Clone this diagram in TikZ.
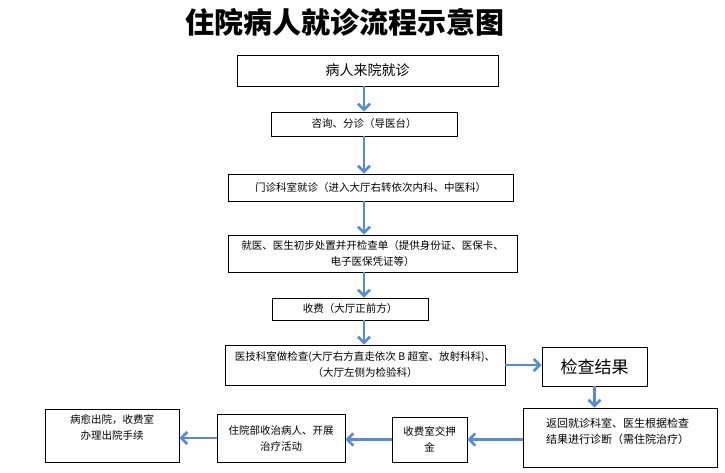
\documentclass[tikz,border=0pt]{standalone}
\usepackage{fontspec}
\setmainfont{Noto Sans CJK SC}
\usetikzlibrary{arrows.meta}

\definecolor{flowblue}{RGB}{84,141,212}

\tikzset{
  box/.style={draw, line width=0.9pt, inner sep=0pt, align=center,
    font=\fontsize{10.5}{16}\selectfont},
  flow/.style={draw=flowblue, line width=2.6pt,
    -{Straight Barb[length=6pt,width=12pt,line width=2.6pt]}}
}

\begin{document}
\begin{tikzpicture}[x=1pt,y=-1pt]
  \useasboundingbox (0,0) rectangle (725,473);

  % Title
  \node[font=\fontsize{29}{30}\selectfont\bfseries] (title) at (345,22) {住院病人就诊流程示意图};

  % Boxes down the middle
  \node[box, minimum width=261, minimum height=31, font=\fontsize{14}{16}\selectfont] (come) at (367.5,70.5) {病人来院就诊};
  \node[box, minimum width=186, minimum height=24] (ask) at (364,124) {咨询、分诊（导医台）};
  \node[box, minimum width=285, minimum height=27] (clinic) at (370.5,187.5) {门诊科室就诊（进入大厅右转依次内科、中医科）};
  \node[box, minimum width=289, minimum height=37] (order) at (372.5,253.5) {就医、医生初步处置并开检查单（提供身份证、医保卡、\\电子医保凭证等）};
  \node[box, minimum width=156, minimum height=22] (pay) at (350,309) {收费（大厅正前方）};
  \node[box, minimum width=280, minimum height=40] (exam) at (365,365) {医技科室做检查(大厅右方直走依次 B 超室、放射科科)、\\（大厅左侧为检验科）};

  % Boxes on the right and along the bottom
  \node[box, minimum width=105, minimum height=39, font=\fontsize{17}{20}\selectfont] (result) at (594.5,366.5) {检查结果};
  \node[box, minimum width=194, minimum height=59, font=\fontsize{11}{16}\selectfont] (back) at (620,437.5)
    {\parbox[c][39pt][t]{148pt}{返回就诊科室、医生根据检查\\结果进行诊断（需住院治疗）}};
  \node[box, minimum width=75, minimum height=45] (deposit) at (429.5,439.5) {收费室交押\\金};
  \node[box, minimum width=128, minimum height=48] (ward) at (281,438) {住院部收治病人、开展\\治疗活动};
  \node[box, minimum width=134, minimum height=53] (leave) at (112,435.5)
    {\parbox[c][42pt][t]{120pt}{\centering 病愈出院，收费室\\办理出院手续}};

  % Connectors
  \coordinate (spine) at (364,0);
  \draw[flow] (spine |- come.south) -- (spine |- ask.north);
  \draw[flow] (spine |- ask.south) -- (spine |- clinic.north);
  \draw[flow] (spine |- clinic.south) -- (spine |- order.north);
  \draw[flow] (spine |- order.south) -- (spine |- pay.north);
  \draw[flow] (spine |- pay.south) -- (spine |- exam.north);
  \draw[flow] (exam.east) -- (exam.east -| result.west);
  \draw[flow] (result.south) -- (result.south |- back.north);
  \draw[flow] (back.west |- deposit.west) -- (deposit.west -| deposit.east);
  \draw[flow] (deposit.west) -- (deposit.west -| ward.east);
  \draw[flow] (ward.west) -- (ward.west -| leave.east);

\end{tikzpicture}
\end{document}
